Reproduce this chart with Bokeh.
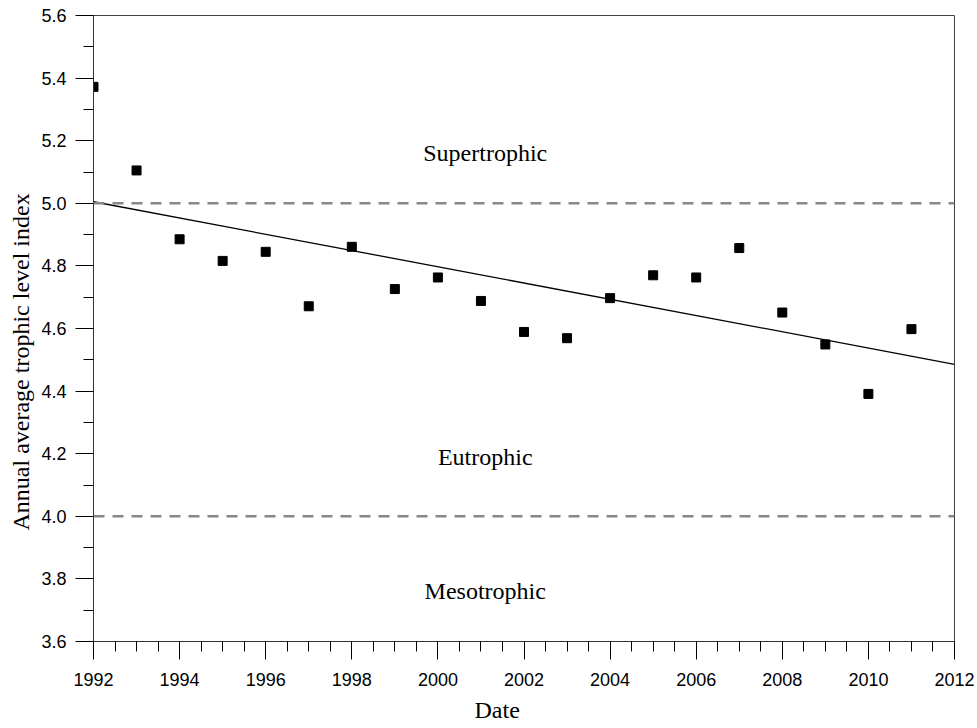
import numpy as np
from bokeh.plotting import figure
from bokeh.models import Span, Label, FixedTicker, Range1d, Title
from bokeh.embed import file_html
from bokeh.resources import INLINE

# Annual average trophic level index (TLI), 1992-2011
years = list(range(1992, 2012))
tli = [5.372, 5.105, 4.885, 4.816, 4.845, 4.671, 4.861, 4.726, 4.763, 4.688,
       4.589, 4.569, 4.697, 4.770, 4.763, 4.857, 4.651, 4.549, 4.391, 4.598]

x_limits = [1992, 2012]
y_limits = [3.6, 5.6]
x_ticks = [1992, 1994, 1996, 1998, 2000, 2002, 2004, 2006, 2008, 2010, 2012]
y_ticks = [3.6, 3.8, 4.0, 4.2, 4.4, 4.6, 4.8, 5.0, 5.2, 5.4, 5.6]
x_minor = [1992 + 0.5 * i for i in range(41)]
y_minor = [round(3.6 + 0.1 * i, 1) for i in range(21)]

# Trophic class boundaries and class names
class_bounds = [4.0, 5.0]
class_names = ["Supertrophic", "Eutrophic", "Mesotrophic"]

SERIF = "Liberation Serif"
SANS = "Liberation Sans"

p = figure(width=977, height=728, output_backend="svg", toolbar_location=None,
           x_range=Range1d(*x_limits), y_range=Range1d(*y_limits),
           min_border_left=93, min_border_right=23, min_border_top=15,
           min_border_bottom=87)
p.background_fill_color = "white"
p.border_fill_color = "white"
p.outline_line_color = "#444444"
p.outline_line_width = 1
p.xgrid.visible = False
p.ygrid.visible = False

# Class boundary lines
for b in class_bounds:
    p.add_layout(Span(location=b, dimension="width", line_color="#888888",
                      line_width=2.5, line_dash="11 8"))

# Linear trend through the annual values
slope, intercept = np.polyfit(years, tli, 1)
trend_x = np.array(x_limits, dtype=float)
p.line(trend_x, slope * trend_x + intercept, line_color="black", line_width=1.3)

# Annual points
p.scatter(years, tli, marker="square", size=9, fill_color="black",
          line_color="black")

# Class names
for name, yy in zip(class_names, [5.16, 4.19, 3.76]):
    p.add_layout(Label(x=2001.1, y=yy, text=name, text_align="center",
                       text_baseline="middle", text_font=SERIF,
                       text_font_size="24px", text_color="black"))

# Axes
for ax in (p.xaxis[0], p.yaxis[0]):
    ax.major_tick_in = 0
    ax.minor_tick_in = 0
    ax.major_tick_out = 18
    ax.minor_tick_out = 10
    ax.major_tick_line_color = "black"
    ax.minor_tick_line_color = "black"
    ax.axis_line_color = "#333333"
    ax.major_label_text_font = SANS
    ax.major_label_text_font_size = "18px"
    ax.major_label_text_color = "black"

p.xaxis[0].ticker = FixedTicker(ticks=x_ticks, minor_ticks=x_minor)
p.yaxis[0].ticker = FixedTicker(ticks=y_ticks, minor_ticks=y_minor)
p.xaxis[0].major_label_standoff = 13
p.yaxis[0].major_label_standoff = 9
p.xaxis[0].major_label_overrides = {t: str(t) for t in x_ticks}
p.yaxis[0].major_label_overrides = {t: f"{t:.1f}" for t in y_ticks}

# Axis titles, set slightly off-centre along their axes
p.add_layout(Title(text="Date", align="left", offset=381, text_font=SERIF,
                   text_font_size="24px", text_font_style="normal",
                   text_color="black", standoff=12), "below")
p.add_layout(Title(text="Annual average trophic level index", align="left",
                   offset=111, text_font=SERIF, text_font_size="24px",
                   text_font_style="normal", text_color="black", standoff=10),
             "left")

open("out.html", "w").write(file_html(p, INLINE))
